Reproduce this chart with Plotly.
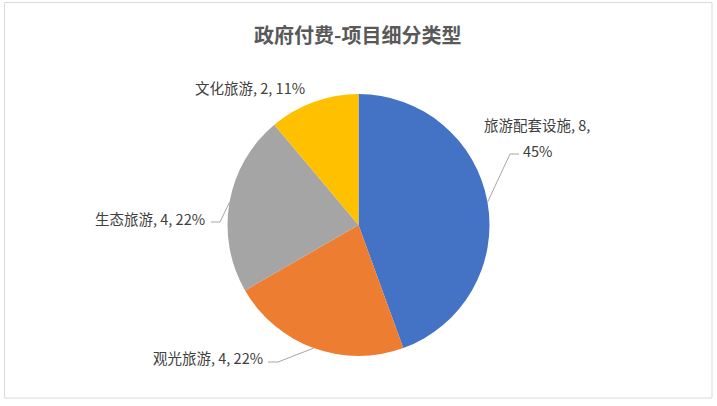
import math
import plotly.graph_objects as go

# ---- data ----
categories = ["旅游配套设施", "观光旅游", "生态旅游", "文化旅游"]
values = [8, 4, 4, 2]
percents = [45, 22, 22, 11]
colors = ["#4472C4", "#ED7D31", "#A5A5A5", "#FFC000"]
title_text = "政府付费-项目细分类型"

# ---- layout geometry (pixels) ----
W, H = 717, 406
cx, cy, r = 358.5, 225.0, 131.0

def px(x):
    return x / W

def py(y):
    return 1 - y / H

fig = go.Figure()
fig.add_trace(go.Pie(
    labels=categories,
    values=values,
    marker=dict(colors=colors, line=dict(width=0)),
    sort=False,
    direction="clockwise",
    rotation=0,
    textinfo="none",
    hoverinfo="label+value+percent",
    showlegend=False,
    domain=dict(x=[px(cx - r), px(cx + r)], y=[py(cy + r), py(cy - r)]),
))

# slice mid-angle edge points (computed from data)
total = sum(values)
edges = []
cum = 0
for v in values:
    mid = (cum + v / 2) / total * 2 * math.pi
    edges.append((cx + r * math.sin(mid), cy - r * math.cos(mid)))
    cum += v

# label placement (layout): (x, y, xanchor), elbow points for leader lines
label_pos = [
    None,
    (265, 357, "right"),
    (207, 219, "right"),
    (307, 88, "right"),
]
elbows = [
    [(510, 154), (519, 154)],
    [(278, 362), (268, 362)],
    [(220, 222), (211, 222)],
    None,
]

font_lbl = dict(family="Noto Sans CJK SC, Microsoft YaHei, sans-serif", size=14.5, color="#404040")
annotations = []
for i, cat in enumerate(categories):
    if i == 0:
        annotations.append(dict(x=px(536.5), y=py(124), xref="paper", yref="paper",
                                text=f"{cat}, {values[i]},", showarrow=False,
                                xanchor="center", yanchor="middle", font=font_lbl))
        annotations.append(dict(x=px(537), y=py(150), xref="paper", yref="paper",
                                text=f"{percents[i]}%", showarrow=False,
                                xanchor="center", yanchor="middle", font=font_lbl))
    else:
        x, y, xa = label_pos[i]
        annotations.append(dict(x=px(x), y=py(y), xref="paper", yref="paper",
                                text=f"{cat}, {values[i]}, {percents[i]}%", showarrow=False,
                                xanchor=xa, yanchor="middle", font=font_lbl))

shapes = []
for i, el in enumerate(elbows):
    if el is None:
        continue
    pts = [edges[i]] + el
    path = "M " + " L ".join(f"{px(a)},{py(b)}" for a, b in pts)
    shapes.append(dict(type="path", xref="paper", yref="paper", path=path,
                       line=dict(color="#A6A6A6", width=1)))

# chart border
shapes.append(dict(type="rect", xref="paper", yref="paper",
                   x0=px(4.5), x1=px(712), y0=py(398), y1=py(2.5),
                   line=dict(color="#D9D9D9", width=1), fillcolor="rgba(0,0,0,0)"))

annotations.append(dict(x=px(357.5), y=py(34), xref="paper", yref="paper",
                        text=f"<b>{title_text}</b>", showarrow=False,
                        xanchor="center", yanchor="middle",
                        font=dict(family="Noto Sans CJK SC, Microsoft YaHei, sans-serif",
                                  size=20, color="#595959")))

fig.update_layout(
    width=W, height=H,
    margin=dict(l=0, r=0, t=0, b=0),
    paper_bgcolor="white",
    plot_bgcolor="white",
    annotations=annotations,
    shapes=shapes,
)

fig.write_html(
    "out.html",
    config={"displayModeBar": False},
    post_script="document.body.style.margin='0';document.body.style.overflow='hidden';",
)
